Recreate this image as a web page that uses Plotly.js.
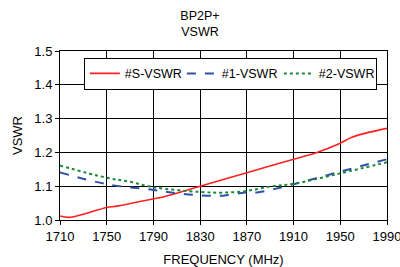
<!DOCTYPE html>
<html><head><meta charset="utf-8">
<script src="https://cdn.plot.ly/plotly-3.0.1.min.js"></script>
<style>html,body{margin:0;padding:0;background:#fff}#c{width:400px;height:267px}</style>
</head><body><div id="c"></div>
<script>
const sFreq = [1710, 1719, 1750, 1759, 1790, 1799, 1830, 1870, 1910, 1930, 1950, 1960, 1990];
const sVswr = [1.012, 1.008, 1.037, 1.041, 1.063, 1.069, 1.100, 1.140, 1.180, 1.200, 1.227, 1.245, 1.271];
const f1Freq = [1710, 1750, 1790, 1810, 1830, 1850, 1870, 1880, 1910, 1950, 1990];
const f1Vswr = [1.141, 1.106, 1.089, 1.079, 1.073, 1.072, 1.082, 1.082, 1.106, 1.143, 1.180];
const f2Freq = [1710, 1750, 1770, 1790, 1830, 1850, 1870, 1890, 1910, 1950, 1990];
const f2Vswr = [1.161, 1.125, 1.113, 1.097, 1.083, 1.081, 1.086, 1.099, 1.107, 1.138, 1.171];
const xTicks = [1710, 1750, 1790, 1830, 1870, 1910, 1950, 1990];
const yTicks = [1.0, 1.1, 1.2, 1.3, 1.4, 1.5];

const traces = [
  {x: sFreq, y: sVswr, name: '#S-VSWR', mode: 'lines', line: {color: '#ff2020', width: 1.6, shape: 'spline'}},
  {x: f1Freq, y: f1Vswr, name: '#1-VSWR', mode: 'lines', line: {color: '#3050a8', width: 2, dash: 'dash', shape: 'spline'}},
  {x: f2Freq, y: f2Vswr, name: '#2-VSWR', mode: 'lines', line: {color: '#1a8a3a', width: 2, dash: 'dot', shape: 'spline'}}
];
const font = {family: 'Liberation Sans, Arial, sans-serif', size: 13, color: '#000'};
const layout = {
  width: 400, height: 267,
  margin: {l: 60, r: 13, t: 51, b: 47},
  paper_bgcolor: '#fff', plot_bgcolor: '#fff',
  font: font,
  title: {text: 'BP2P+<br>VSWR', font: {family: font.family, size: 12.5, color: '#000'}, x: 0.5, xanchor: 'center', xref: 'container', yref: 'container', y: 0.925, yanchor: 'middle'},
  xaxis: {
    range: [1710, 1990], tickvals: xTicks, ticktext: xTicks.map(String),
    showgrid: true, gridcolor: '#000', gridwidth: 1,
    showline: true, linecolor: '#000', linewidth: 1, mirror: true,
    ticks: 'outside', ticklen: 4, tickcolor: '#000',
    ticklabeloverflow: 'allow',
    zeroline: false, automargin: false,
    title: {text: 'FREQUENCY (MHz)', font: font, standoff: 14}
  },
  yaxis: {
    range: [1.0, 1.5], tickvals: yTicks, ticktext: yTicks.map(v => v.toFixed(1)),
    showgrid: true, gridcolor: '#000', gridwidth: 1,
    showline: true, linecolor: '#000', linewidth: 1, mirror: true,
    ticks: 'outside', ticklen: 4, tickcolor: '#000',
    zeroline: false, automargin: false,
    title: {text: 'VSWR', font: font, standoff: 8}
  },
  showlegend: true,
  legend: {orientation: 'h', x: 0.073, y: 0.96, xanchor: 'left', yanchor: 'top',
    bgcolor: '#fff', bordercolor: '#000', borderwidth: 1,
    font: {family: font.family, size: 12.5, color: '#000'},
    itemwidth: 30, entrywidth: 52, entrywidthmode: 'pixels', tracegroupgap: 0}
};
Plotly.newPlot('c', traces, layout, {staticPlot: true, displayModeBar: false});
</script></body></html>
